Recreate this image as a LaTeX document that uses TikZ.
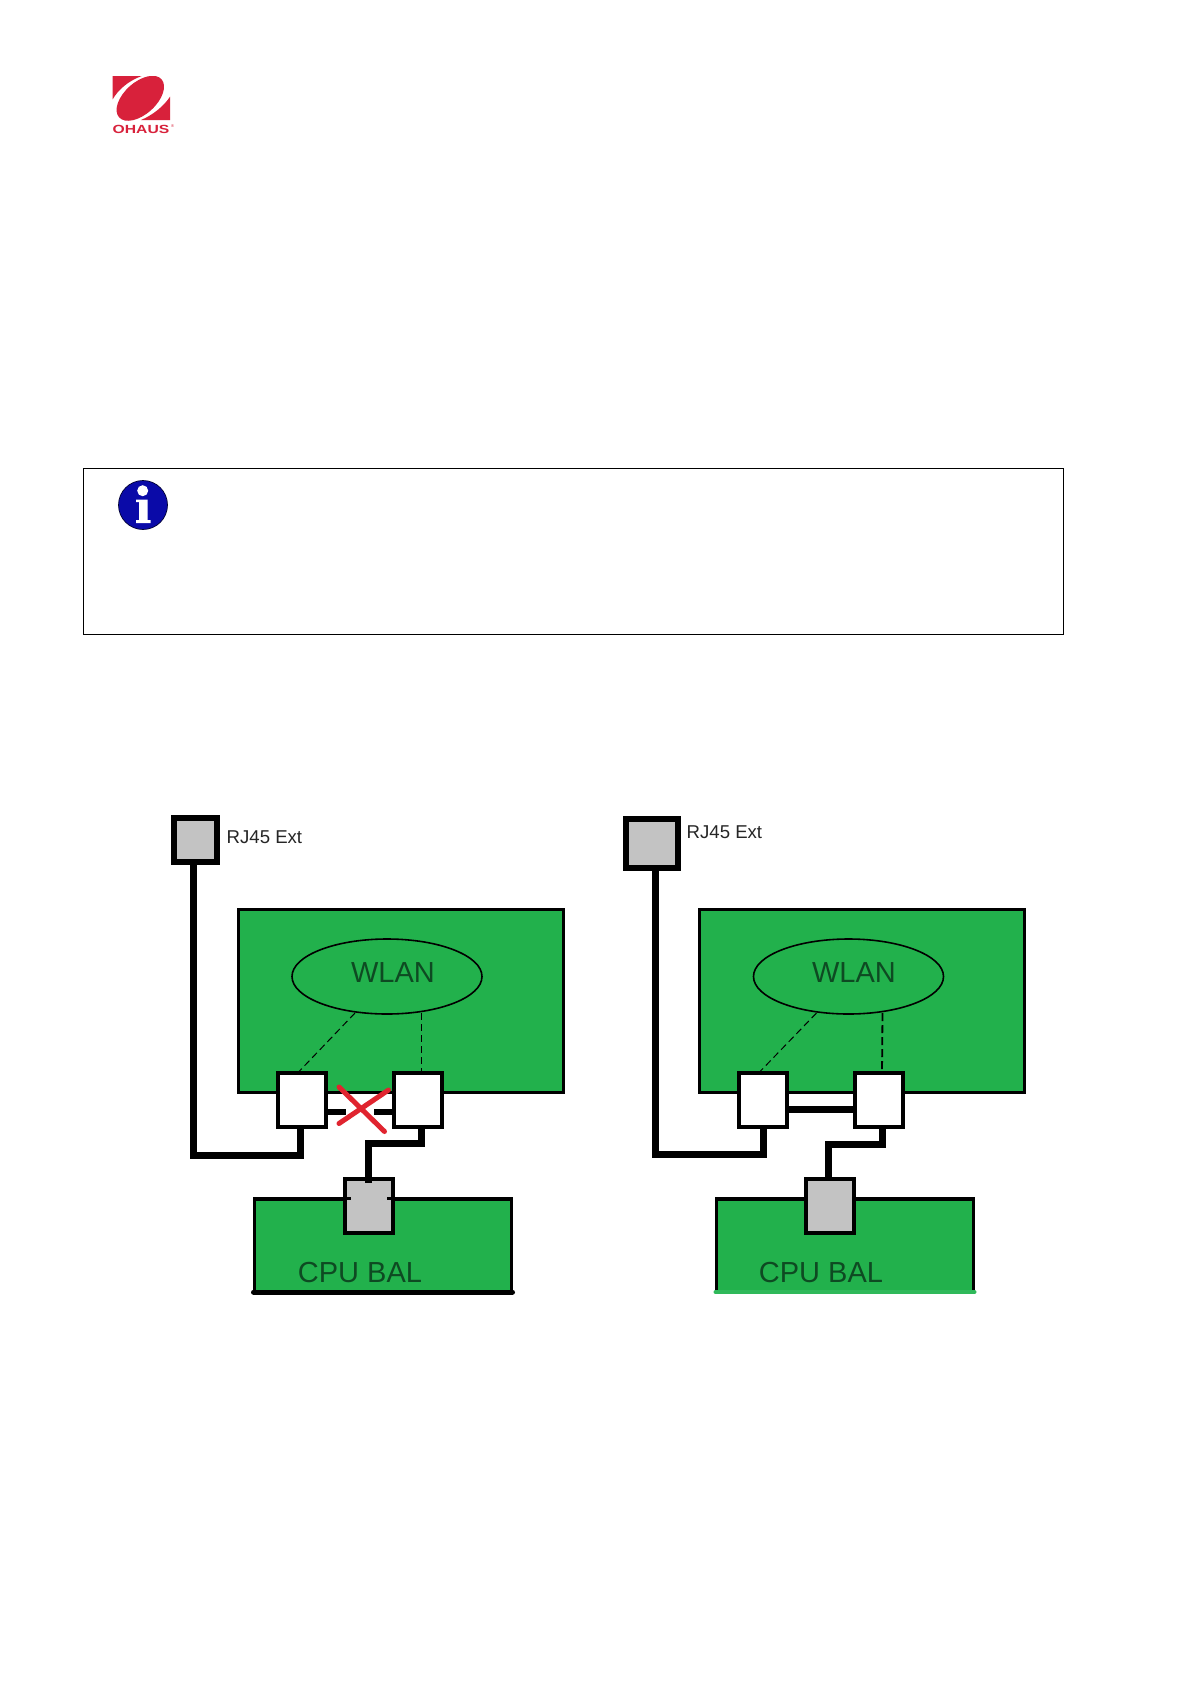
\documentclass[tikz,border=0pt]{standalone}
\usepackage{graphicx}
\usepackage{fontspec}
\setmainfont{Liberation Sans}
\usetikzlibrary{shapes.geometric,calc}
\definecolor{bgreen}{HTML}{22B14C}
\definecolor{lgreen}{HTML}{2FB95A}
\definecolor{bgray}{HTML}{C3C3C3}
\definecolor{ored}{HTML}{D8213B}
\definecolor{xred}{HTML}{E0242F}
\definecolor{iblue}{HTML}{0A0AA8}
\definecolor{gtext}{HTML}{0E4A22}
\tikzset{
  x=1pt,y=-1pt,
  panel/.style={rectangle,draw=black,fill=bgreen,line width=3.3pt,inner sep=0pt,outer sep=0pt},
  cpubody/.style={rectangle,fill=bgreen,draw=none,inner sep=0pt,outer sep=0pt},
  wlan/.style={ellipse,draw=black,line width=1.6pt,inner sep=0pt,outer sep=0pt,minimum width=190pt,minimum height=75pt},
  whitebox/.style={rectangle,draw=black,fill=white,line width=3.8pt,inner sep=0pt,outer sep=0pt,minimum width=48pt,minimum height=54pt},
  graybox/.style={rectangle,draw=black,fill=bgray,line width=4.2pt,inner sep=0pt,outer sep=0pt,minimum width=48pt,minimum height=54pt},
  jack/.style={rectangle,draw=black,fill=bgray,line width=6pt,inner sep=0pt,outer sep=0pt},
  wire/.style={draw=black,line width=7pt},
  link/.style={draw=black,line width=1pt,dash pattern=on 7pt off 4pt},
  linkheavy/.style={draw=black,line width=1.8pt,dash pattern=on 8pt off 4pt},
  edge side/.style={draw=black,line width=3.6pt},
  cross/.style={draw=xred,line width=5pt,line cap=round},
  bigtext/.style={inner sep=0pt,text=gtext,font=\fontsize{29}{32}\selectfont},
  smalltext/.style={inner sep=0pt,anchor=west,text=black!85,font=\fontsize{18.6}{22}\selectfont},
}
\begin{document}
\begin{tikzpicture}
\useasboundingbox (0,0) rectangle (1190,1684);
\fill[white] (0,0) rectangle (1190,1684);
% logo
\begin{scope}
  \clip (112.7,76) rectangle (170,120);
  \fill[ored] (112.7,76) -- (141.7,76) .. controls (128,81) and (118,90) .. (112.7,99.3) -- cycle;
  \fill[ored] (170,120) -- (141,120) .. controls (153,115) and (164,106) .. (170,96.7) -- cycle;
  \fill[ored,rotate around={42:(140.3,98.3)}] (140.3,98.3) ellipse (28.5 and 16);
\end{scope}
\node[name=ohaus,inner sep=0pt,text=ored] at (141,129.3) {\fontsize{11.8}{12}\selectfont\bfseries\scalebox{1.33}[1]{OHAUS}};
\node[name=reg,inner sep=0pt,text=ored] at (172.5,126.5) {\fontsize{4}{4}\selectfont ®};
% info panel
\node[name=infopanel,rectangle,draw=black,line width=1.2pt,inner sep=0pt,minimum width=980pt,minimum height=166pt] at (573.2,551.3) {};
\fill[iblue] (143,505) circle (24.5);
\draw[black!70!iblue,line width=.7pt] (143,505) circle (24.5);
\fill[white] (142.7,490.7) circle (5.5);
\fill[white] (136,499.5) -- (147.5,499.5) -- (147.5,520) -- (150.5,520) -- (150.5,523) -- (136,523) -- (136,520) -- (139,520) -- (139,502) -- (136,502) -- cycle;

% LEFT diagram
\node[name=greenL,panel,minimum width=325pt,minimum height=183pt] at (401,1001) {};
\node[name=wlanL,wlan] at (387,976.5) {};
\node[name=wlanLtext,bigtext] at (393,973) {WLAN};
\node[name=cpuL,cpubody,minimum width=257pt,minimum height=93pt] at (383,1245.5) {};
\node[name=cpuLtext,bigtext] at (360,1272.5) {CPU BAL};
\draw[edge side] (cpuL.south west) -- (cpuL.north west) -- (cpuL.north east) -- (cpuL.south east);
\draw[draw=black,line width=5pt,line cap=round] ([xshift=-1pt]cpuL.south west) -- ([xshift=1pt]cpuL.south east);
\node[name=jackL,jack,minimum width=43pt,minimum height=44pt] at (195.5,840) {};
\node[name=jackLtext,smalltext] at (226.5,836.7) {RJ45 Ext};
\node[name=aL,whitebox] at (302.3,1100.3) {};
\node[name=bL,whitebox] at (418,1100.3) {};
\node[name=sockL,graybox] at (369.3,1206) {};
\draw[link] ($(wlanL.south)+(-32,-1)$) -- ([xshift=-5pt]aL.north);
\draw[link] ($(wlanL.south)+(34,-1)$) -- ([xshift=3pt]bL.north);
\draw[wire] ([xshift=-2pt]jackL.south) -- ++(0,293) coordinate (cL) -| ([xshift=-2pt]aL.south);
\draw[wire] ([xshift=3pt]bL.south) |- ([xshift=-1pt,yshift=36pt]sockL.north) coordinate (eL) -- ([xshift=-1pt,yshift=-4pt]sockL.north);
\draw[draw=black,line width=6.5pt] (aL.east |- 0,1112) coordinate (m1) -- ++(20,0);
\draw[draw=black,line width=6.5pt] (bL.west |- 0,1112) coordinate (m2) -- ++(-20,0);
\draw[draw=black,line width=3pt] ([yshift=-19pt]sockL.north west) -- ++(6,0);
\draw[draw=black,line width=3pt] ([yshift=-19pt]sockL.north east) -- ++(-6,0);
\draw[cross] (339,1123.5) -- (388.5,1090);
\draw[cross] (339,1087) -- (384.5,1131.5);

% RIGHT diagram
\node[name=greenR,panel,minimum width=325pt,minimum height=183pt] at (861.7,1001) {};
\node[name=wlanR,wlan] at (848.5,976.5) {};
\node[name=wlanRtext,bigtext] at (854,973) {WLAN};
\node[name=cpuR,cpubody,minimum width=257pt,minimum height=93pt] at (845,1245.5) {};
\node[name=cpuRtext,bigtext] at (821,1272.5) {CPU BAL};
\draw[edge side] (cpuR.south west) -- (cpuR.north west) -- (cpuR.north east) -- (cpuR.south east);
\draw[draw=lgreen,line width=4pt,line cap=round] ([xshift=-1pt]cpuR.south west) -- ([xshift=1pt]cpuR.south east);
\node[name=jackR,jack,minimum width=51.5pt,minimum height=49pt] at (652,843.5) {};
\node[name=jackRtext,smalltext] at (686.5,832) {RJ45 Ext};
\node[name=aR,whitebox] at (763.3,1100.3) {};
\node[name=bR,whitebox] at (879,1100.3) {};
\node[name=sockR,graybox] at (830.2,1206) {};
\draw[link] ($(wlanR.south)+(-32,-1)$) -- ([xshift=-5pt]aR.north);
\draw[linkheavy] ($(wlanR.south)+(34,-1)$) -- ([xshift=3pt]bR.north);
\draw[wire] ([xshift=3pt]jackR.south) -- ++(0,286) coordinate (cR) -| (aR.south);
\draw[wire] ([xshift=3pt]bR.south) |- ([xshift=-2pt,yshift=35pt]sockR.north) coordinate (eR) -- ([xshift=-2pt]sockR.north);
\draw[wire] (aR.east |- 0,1109) coordinate (m3) -- (bR.west |- 0,1109);
\end{tikzpicture}
\end{document}
